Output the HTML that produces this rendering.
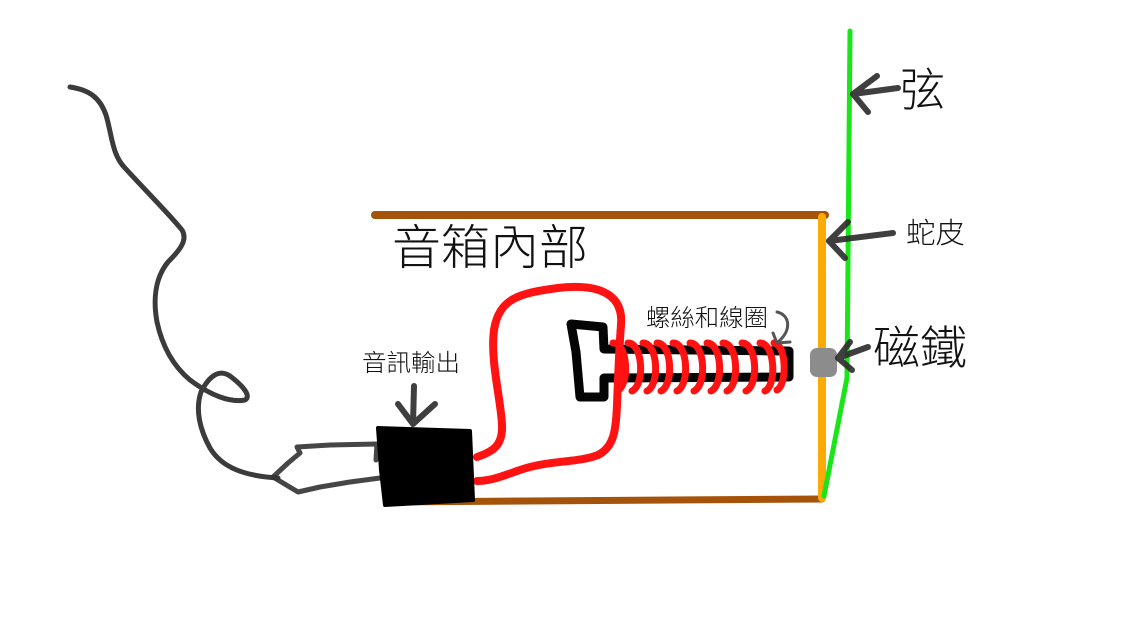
<!DOCTYPE html>
<html>
<head>
<meta charset="utf-8">
<style>
html,body{margin:0;padding:0;background:#fff;}
svg{display:block;}
text{font-family:"Liberation Sans","Noto Sans CJK TC","WenQuanYi Zen Hei",sans-serif;fill:#111;font-weight:300;}
</style>
</head>
<body>
<svg width="1121" height="617" viewBox="0 0 1121 617" xmlns="http://www.w3.org/2000/svg">
<rect width="1121" height="617" fill="#fff"/>

<!-- brown box lines -->
<path d="M375,215 L825,215" stroke="#a5530b" stroke-width="8" stroke-linecap="round" fill="none"/>
<path d="M387,502 L822,499" stroke="#a5530b" stroke-width="7" stroke-linecap="round" fill="none"/>
<!-- orange skin -->
<path d="M822,217 L822,498" stroke="#fbaa06" stroke-width="8" stroke-linecap="round" fill="none"/>
<!-- green string -->
<path d="M850,31 L847,378 L824,496" stroke="#19e619" stroke-width="5" stroke-linecap="round" stroke-linejoin="round" fill="none"/>

<!-- screw -->
<path d="M571,324 L603,327 L604,349 L789,351 L789,377 L604,378 L604,397 L580,397 L576,352 Z" stroke="#050505" stroke-width="9" stroke-linejoin="round" fill="#fff"/>

<!-- red wire -->
<path d="M477,457 C492,452 503,446 502,425 C501,400 490,360 494,330 C499,298 520,293 558,288 C592,284 624,290 621,325 C619,350 618,380 617,405 C616,430 614,447 598,455 C578,463 548,460 520,470 C500,477 490,481 477,481" stroke="#ff1212" stroke-width="8" stroke-linecap="round" fill="none"/>
<!-- coils -->
<g stroke="#ff1212" stroke-width="7" stroke-linecap="round" fill="none">
<path d="M613,343 C628,343 630,385 617,391"/>
<path d="M628,343 C643,343 645,385 632,391"/>
<path d="M643,343 C658,343 660,385 647,391"/>
<path d="M657,343 C672,343 674,385 661,391"/>
<path d="M673,343 C688,343 690,385 677,391"/>
<path d="M690,343 C705,343 707,385 694,391"/>
<path d="M707,343 C722,343 724,385 711,391"/>
<path d="M723,343 C738,343 740,385 727,391"/>
<path d="M742,343 C757,343 759,385 746,391"/>
<path d="M760,343 C775,343 777,385 765,391"/>
<path d="M774,343 C787,345 787,385 777,390"/>
</g>

<!-- magnet -->
<rect x="810" y="348" width="27" height="29" rx="7" fill="#8c8c8c"/>

<!-- cable -->
<path d="M70,87 C90,90 100,98 106,115 C112,135 112,155 125,168 C145,190 170,215 182,230 C188,240 180,250 168,262 C155,278 153,300 157,322 C162,345 172,365 190,380 C210,395 230,403 245,400 C252,396 242,385 230,376 C218,368 208,378 201,392 C195,410 200,430 210,448 C222,468 245,476 278,478" stroke="#2a2a2a" stroke-width="5" stroke-linecap="round" stroke-linejoin="round" fill="none" opacity="0.92"/>
<!-- connector -->
<g stroke="#333" stroke-width="5" stroke-linecap="round" stroke-linejoin="round" fill="none" opacity="0.9">
<path d="M273,477 L288,463 L300,453 L297,447 L330,445 L377,444 L376,460"/>
<path d="M273,477 L298,492 L320,487 L350,482 L380,478"/>
</g>

<!-- black box -->
<polygon points="378,428 470,431 473,500 385,505 381,470" fill="#000" stroke="#000" stroke-width="4" stroke-linejoin="round"/>

<!-- arrows -->
<g stroke="#2b2b2b" stroke-width="6" stroke-linecap="round" stroke-linejoin="round" fill="none" opacity="0.9">
<path d="M898,88 L853,94"/>
<path d="M877,76 L853,94 L868,112"/>
<path d="M893,233 L829,241"/>
<path d="M848,222 L829,241 L845,258"/>
<path d="M868,347 L838,358"/>
<path d="M850,342 L838,358 L852,370"/>
<path d="M414,386 L413,424"/>
<path d="M398,404 L413,424 L435,404"/>
</g>
<path d="M777,312 C790,315 792,330 778,342 M773,333 L777,343 L790,342" stroke="#555" stroke-width="3" stroke-linecap="round" stroke-linejoin="round" fill="none"/>

<!-- labels -->
<text x="392" y="264" font-size="48" textLength="196" lengthAdjust="spacingAndGlyphs">音箱內部</text>
<text x="362" y="371" font-size="24" textLength="98" lengthAdjust="spacingAndGlyphs">音訊輸出</text>
<text x="646" y="326" font-size="24" textLength="122" lengthAdjust="spacingAndGlyphs">螺絲和線圈</text>
<text x="900" y="106" font-size="46" textLength="45" lengthAdjust="spacingAndGlyphs">弦</text>
<text x="906" y="243" font-size="29" textLength="59" lengthAdjust="spacingAndGlyphs">蛇皮</text>
<text x="873" y="364" font-size="46" textLength="94" lengthAdjust="spacingAndGlyphs">磁鐵</text>
</svg>
</body>
</html>
